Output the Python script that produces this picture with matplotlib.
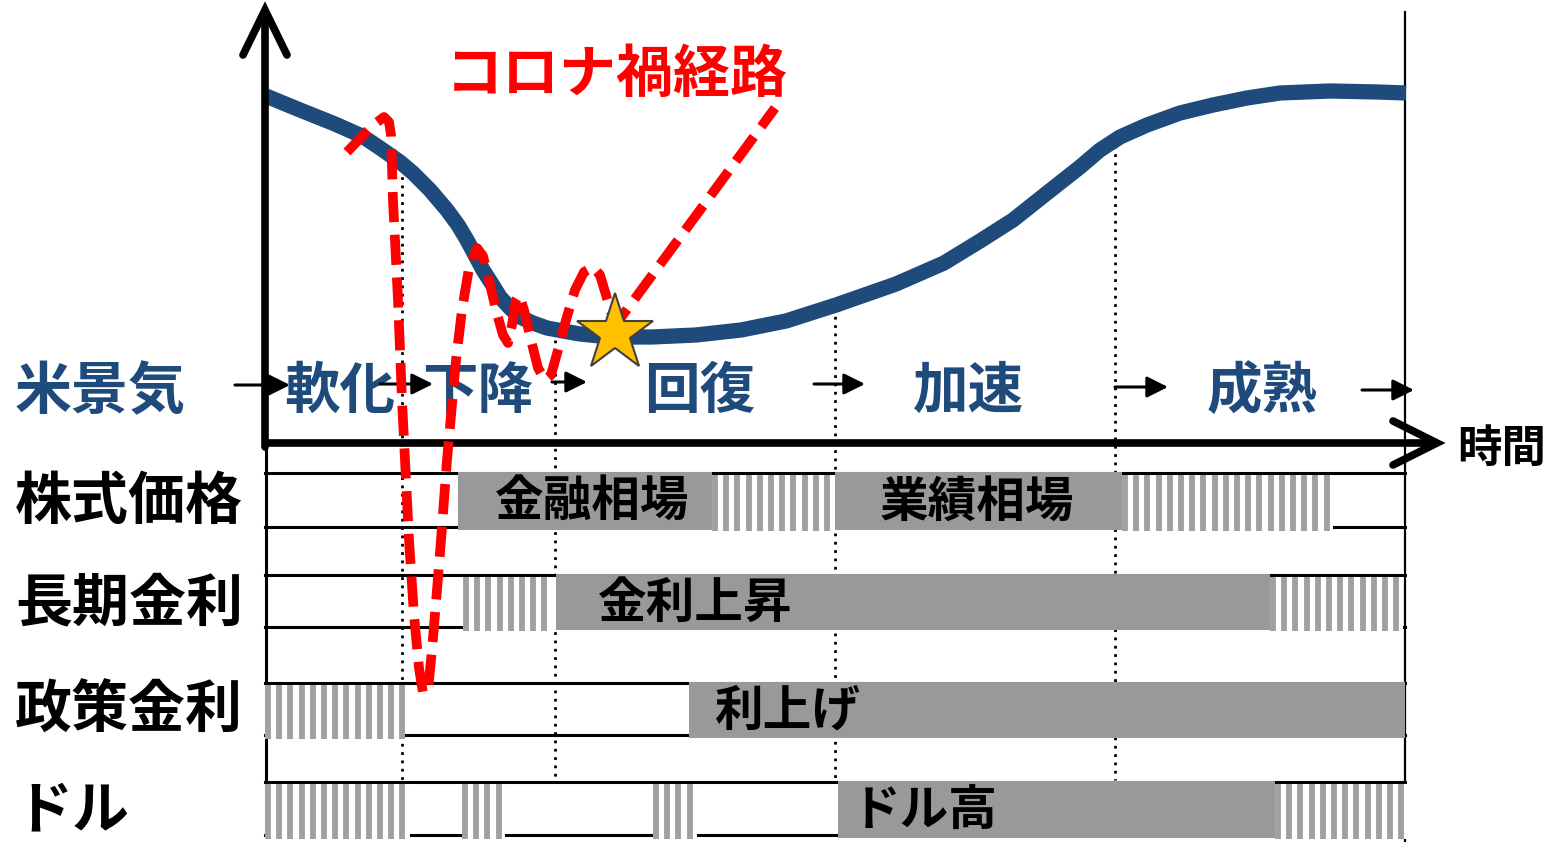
import numpy as np
import matplotlib.pyplot as plt

plt.rcParams['font.family'] = ['Noto Sans CJK JP', 'DejaVu Sans']

# --- data (picture coordinates, y grows downward) ---
econ_x = [266, 300, 335, 362, 380, 400, 413, 430, 447, 458, 467, 475, 483, 492, 500,
          510, 520, 533, 547, 563, 580, 600, 620, 652, 696, 741, 786, 836, 896, 944,
          980, 1013, 1047, 1080, 1100, 1120, 1147, 1180, 1213, 1247, 1280, 1330, 1378, 1406]
econ_y = [96, 110, 124, 136, 148, 162, 173, 190, 210, 225, 240, 255, 270, 284, 297,
          308, 317, 323, 328, 331, 334, 336, 337, 337, 335, 330, 321, 305, 284, 263,
          241, 220, 193, 167, 150, 137, 125, 113, 105, 98, 93, 91, 92, 93]

corona_x = [347, 372, 384, 389, 391, 393, 398, 402, 405, 409, 414, 419, 423, 428, 432,
            437, 441, 447, 456, 462, 469, 477, 483, 489, 496, 503, 508, 512, 516, 519,
            524, 531, 538, 545, 551, 558, 566, 575, 584, 593, 600, 606, 612, 617, 775]
corona_y = [152, 126, 117, 122, 135, 200, 300, 400, 460, 540, 615, 668, 693, 690, 650,
            590, 540, 460, 360, 310, 268, 248, 256, 280, 310, 335, 343, 325, 300, 295,
            310, 340, 368, 380, 375, 350, 320, 290, 272, 267, 275, 295, 315, 323, 108]

star_x, star_y = 615, 333

stage_names = ['軟化', '下降', '回復', '加速', '成熟']
stage_x = [340, 478, 700, 968, 1262]
arrow_x0 = [235, 380, 552, 814, 1115, 1362]
arrow_x1 = [290, 433, 587, 865, 1168, 1414]
arrow_y = [385, 384, 382, 384, 387, 390]

phase_x = [402, 555, 835, 1115]
phase_top = [160, 340, 308, 137]

row_names = ['株式価格', '長期金利', '政策金利', 'ドル']
row_top = [473, 575, 683, 782]
row_bottom = [527, 627, 735, 835]
# (start, end, kind, label, label_x)
row_segments = [
    [(458, 712, 'solid', '金融相場', 495), (712, 835, 'hatch', '', 0),
     (835, 1122, 'solid', '業績相場', 880), (1122, 1333, 'hatch', '', 0)],
    [(463, 556, 'hatch', '', 0), (556, 1270, 'solid', '金利上昇', 598),
     (1270, 1403, 'hatch', '', 0)],
    [(265, 405, 'hatch', '', 0), (689, 1405, 'solid', '利上げ', 715)],
    [(265, 410, 'hatch', '', 0), (462, 505, 'hatch', '', 0), (653, 697, 'hatch', '', 0),
     (838, 1275, 'solid', 'ドル高', 852), (1275, 1407, 'hatch', '', 0)],
]

navy = '#1F4A7C'
bar_gray = '#999999'
stripe_gray = '#A0A0A0'
stripe_step = 11.2

fig = plt.figure(figsize=(15.55, 8.42), dpi=100)
ax = fig.add_axes([0, 0, 1, 1])
ax.set_xlim(0, 1555)
ax.set_ylim(842, 0)
ax.axis('off')

# axes with chevron heads
ax.plot([265, 265], [447, 12], color='k', lw=5.5, solid_capstyle='round', zorder=4)
ax.plot([243, 265, 287], [55, 10, 55], color='k', lw=5.5,
        solid_capstyle='round', solid_joinstyle='miter', zorder=4)
ax.plot([262, 1434], [443, 443], color='k', lw=5.5, solid_capstyle='butt', zorder=4)
ax.plot([1393, 1437, 1393], [421, 443, 465], color='k', lw=5.5,
        solid_capstyle='round', solid_joinstyle='miter', zorder=4)
ax.plot([1405, 1405], [12, 842], color='k', lw=1.6, zorder=1)
ax.plot([266, 266], [443, 835], color='k', lw=2.2, zorder=1)

# phase boundaries
for x, top in zip(phase_x, phase_top):
    ax.plot([x, x], [top, 780], color='k', lw=2, linestyle=(0, (1, 2)), zorder=1)

# economy curve
ax.plot(econ_x, econ_y, color=navy, lw=11, solid_capstyle='butt',
        solid_joinstyle='round', zorder=3)

# stage labels and arrows
ax.text(15, 392, '米景気', color=navy, fontsize=41, fontweight='bold',
        ha='left', va='center', zorder=5)
for name, x in zip(stage_names, stage_x):
    ax.text(x, 392, name, color=navy, fontsize=40, fontweight='bold',
            ha='center', va='center', zorder=5)
for x0, x1, y in zip(arrow_x0, arrow_x1, arrow_y):
    ax.annotate('', xy=(x1, y), xytext=(x0, y), zorder=5,
                arrowprops=dict(arrowstyle='-|>', color='k', lw=2.2,
                                mutation_scale=32, shrinkA=0, shrinkB=0))

ax.text(1502, 449, '時間', fontsize=32, fontweight='bold', ha='center', va='center')

# lower rows
for i, name in enumerate(row_names):
    top, bot = row_top[i], row_bottom[i]
    ax.plot([265, 1405], [top, top], color='k', lw=2.2, zorder=1)
    ax.plot([265, 1405], [bot, bot], color='k', lw=2.2, zorder=1)
    ax.text(15, (top + bot) / 2 + 2, name, fontsize=41, fontweight='bold',
            ha='left', va='center')
    for x0, x1, kind, label, lx in row_segments[i]:
        if kind == 'solid':
            ax.bar(x0, bot + 4 - top, width=x1 - x0, bottom=top - 1, align='edge',
                   color=bar_gray, lw=0, zorder=2)
            ax.text(lx, (top + bot) / 2 + 2, label, fontsize=35, fontweight='bold',
                    ha='left', va='center', zorder=3)
        else:
            ax.bar(x0, bot + 4 - top - 2, width=x1 - x0, bottom=top + 2, align='edge',
                   color='white', lw=0, zorder=2)
            sx = np.arange(x0 + 3, x1 - 2, stripe_step)
            ax.vlines(sx, top + 2, bot + 4, color=stripe_gray, lw=4.2, zorder=2.5)

# corona path
ax.plot(corona_x, corona_y, color='#FF0000', lw=7, linestyle=(0, (3.1, 1.3)),
        solid_joinstyle='round', zorder=6)
ax.text(617, 75, 'コロナ禍経路', color='#FF0000', fontsize=41, fontweight='bold',
        ha='center', va='center', zorder=6)
ax.plot(star_x, star_y, marker='*', markersize=58, markerfacecolor='#FFC000',
        markeredgecolor='#404040', markeredgewidth=1.5, zorder=7)

fig.savefig('out.png', dpi=100)
